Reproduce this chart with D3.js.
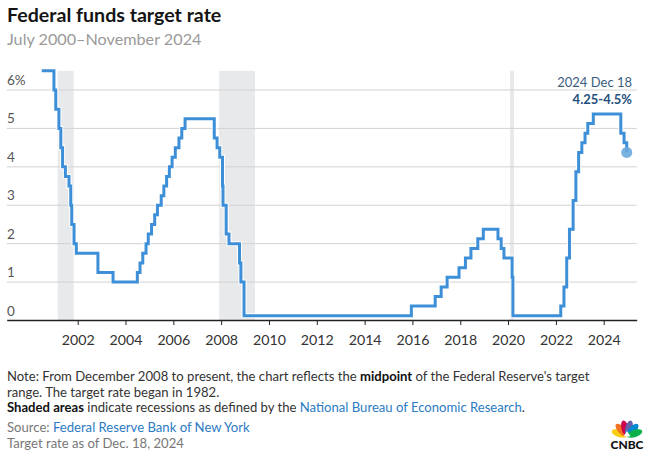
<!DOCTYPE html>
<html>
<head>
<meta charset="utf-8">
<script src="https://cdn.jsdelivr.net/npm/d3@7"></script>
<style>
  html, body { margin: 0; padding: 0; background: #fff; }
  svg { display: block; }
  text { font-family: Lato, "Open Sans", sans-serif; }
</style>
</head>
<body>
<svg id="chart" width="647" height="464"></svg>
<script>
// ---- data ----
const changeDates = ["2000-07-01","2001-01-03","2001-01-31","2001-03-20","2001-04-18","2001-05-15","2001-06-27","2001-08-21","2001-09-17","2001-10-02","2001-11-06","2001-12-11","2002-11-06","2003-06-25","2004-06-30","2004-08-10","2004-09-21","2004-11-10","2004-12-14","2005-02-02","2005-03-22","2005-05-03","2005-06-30","2005-08-09","2005-09-20","2005-11-01","2005-12-13","2006-01-31","2006-03-28","2006-05-10","2006-06-29","2007-09-18","2007-10-31","2007-12-11","2008-01-22","2008-01-30","2008-03-18","2008-04-30","2008-10-08","2008-10-29","2008-12-16","2015-12-16","2016-12-14","2017-03-15","2017-06-14","2017-12-13","2018-03-21","2018-06-13","2018-09-26","2018-12-19","2019-07-31","2019-09-18","2019-10-30","2020-03-03","2020-03-15","2022-03-16","2022-05-04","2022-06-15","2022-07-27","2022-09-21","2022-11-02","2022-12-14","2023-02-01","2023-03-22","2023-05-03","2023-07-26","2024-09-18","2024-11-07","2024-12-18"];
const rates = [6.5,6.0,5.5,5.0,4.5,4.0,3.75,3.5,3.0,2.5,2.0,1.75,1.25,1.0,1.25,1.5,1.75,2.0,2.25,2.5,2.75,3.0,3.25,3.5,3.75,4.0,4.25,4.5,4.75,5.0,5.25,4.75,4.5,4.25,3.5,3.0,2.25,2.0,1.5,1.0,0.125,0.375,0.625,0.875,1.125,1.375,1.625,1.875,2.125,2.375,2.125,1.875,1.625,1.125,0.125,0.375,0.875,1.625,2.375,3.125,3.875,4.375,4.625,4.875,5.125,5.375,4.875,4.625,4.375];
const recessionStarts = ["2001-03-01","2007-12-01","2020-02-01"];
const recessionEnds   = ["2001-11-01","2009-06-01","2020-04-01"];
const yTicks = [0,1,2,3,4,5,6];
const xTickYears = [2002,2004,2006,2008,2010,2012,2014,2016,2018,2020,2022,2024];
const lastLabelDate = "2024 Dec 18";
const lastLabelRange = "4.25-4.5%";

// ---- setup ----
const svg = d3.select("#chart");
const parse = d3.utcParse("%Y-%m-%d");
const data = changeDates.map((d, i) => ({date: parse(d), value: rates[i]}));

const left = 6.7, right = 636.7, baseY = 320.5;
const x = d3.scaleUtc()
  .domain([Date.UTC(2002,0,1), Date.UTC(2024,0,1)])
  .range([77.7, 603.7]);
x.domain([x.invert(left), x.invert(right)]).range([left, right]);

const y = d3.scaleLinear().domain([0, 6]).range([baseY, 90]);
const blue = "#3d8fd8";

// title
svg.append("text").attr("x", 7).attr("y", 22)
  .attr("font-size", 19.6).attr("font-weight", 700).attr("fill", "#141414")
  .text("Federal funds target rate");
svg.append("text").attr("x", 7).attr("y", 44.5)
  .attr("font-size", 16.2).attr("fill", "#9a9a9a")
  .text("July 2000\u2013November 2024");

// recessions
svg.append("g").selectAll("rect").data(recessionStarts).join("rect")
  .attr("x", (d) => x(parse(d)))
  .attr("width", (d, i) => x(parse(recessionEnds[i])) - x(parse(d)))
  .attr("y", y(6.5))
  .attr("height", baseY - y(6.5))
  .attr("fill", "#e8e9eb");

// gridlines
svg.append("g").selectAll("line").data(yTicks.filter(d => d > 0)).join("line")
  .attr("x1", left).attr("x2", right)
  .attr("y1", d => y(d)).attr("y2", d => y(d))
  .attr("stroke", "#d2d2d2").attr("stroke-width", 1);

// y labels
svg.append("g").selectAll("text").data(yTicks).join("text")
  .attr("x", 7).attr("y", d => y(d) - 5)
  .attr("font-size", 13.5).attr("fill", "#555")
  .text(d => d === 6 ? "6%" : d);

// x axis
const xAxis = d3.axisBottom(x)
  .tickValues(xTickYears.map(yr => new Date(Date.UTC(yr, 0, 1))))
  .tickFormat(d3.utcFormat("%Y"))
  .tickSize(5).tickSizeOuter(0).tickPadding(9.5);
const gx = svg.append("g").attr("transform", `translate(0,${320})`).call(xAxis);
gx.select(".domain").attr("stroke", "#222").attr("stroke-width", 1.5);
gx.selectAll(".tick line").attr("stroke", "#222");
gx.selectAll(".tick text").attr("font-family", "Lato, sans-serif")
  .attr("font-size", 14.2).attr("fill", "#333");

// line
const line = d3.line().x(d => x(d.date)).y(d => y(d.value)).curve(d3.curveStepAfter);
svg.append("path").datum(data).attr("d", line)
  .attr("fill", "none").attr("stroke", "#fff").attr("stroke-width", 5)
  .attr("stroke-linejoin", "miter");
svg.append("path").datum(data).attr("d", line)
  .attr("fill", "none").attr("stroke", blue).attr("stroke-width", 3)
  .attr("stroke-linejoin", "miter");

// last point
const last = data[data.length - 1];
svg.append("circle").attr("cx", x(last.date)).attr("cy", y(last.value))
  .attr("r", 5.5).attr("fill", "#6aa8de").attr("opacity", 0.9);

svg.append("text").attr("x", 632).attr("y", 87).attr("text-anchor", "end")
  .attr("font-size", 13).attr("fill", "#3b5d7f").text(lastLabelDate);
svg.append("text").attr("x", 632).attr("y", 103.5).attr("text-anchor", "end")
  .attr("font-size", 13).attr("font-weight", 700).attr("fill", "#1f4f7d").text(lastLabelRange);

// notes
const noteSize = 13.1;
const n1 = svg.append("text").attr("x", 7).attr("y", 381).attr("font-size", noteSize).attr("fill", "#333");
n1.append("tspan").text("Note: From December 2008 to present, the chart reflects the ");
n1.append("tspan").attr("font-weight", 700).attr("fill", "#111").text("midpoint");
n1.append("tspan").text(" of the Federal Reserve's target");
svg.append("text").attr("x", 7).attr("y", 396.5).attr("font-size", noteSize).attr("fill", "#333")
  .text("range. The target rate began in 1982.");
const n3 = svg.append("text").attr("x", 7).attr("y", 412).attr("font-size", noteSize).attr("fill", "#333");
n3.append("tspan").attr("font-weight", 700).attr("fill", "#111").text("Shaded areas");
n3.append("tspan").text(" indicate recessions as defined by the ");
n3.append("tspan").attr("fill", "#2b7bc4").text("National Bureau of Economic Research");
n3.append("tspan").text(".");
const n4 = svg.append("text").attr("x", 7).attr("y", 432).attr("font-size", noteSize).attr("fill", "#777");
n4.append("tspan").text("Source: ");
n4.append("tspan").attr("fill", "#2b7bc4").text("Federal Reserve Bank of New York");
svg.append("text").attr("x", 7).attr("y", 447.5).attr("font-size", noteSize).attr("fill", "#777")
  .text("Target rate as of Dec. 18, 2024");

// CNBC logo
const logo = svg.append("g").attr("transform", "translate(627,436)");
const featherColors = ["#fccc12", "#f37021", "#cc004c", "#6460aa", "#0089d0", "#0db14b"];
const angles = [-72, -43, -14, 14, 43, 72];
logo.selectAll("ellipse").data(featherColors).join("ellipse")
  .attr("cx", 0).attr("cy", -8).attr("rx", 3.6).attr("ry", 8)
  .attr("transform", (d, i) => `rotate(${angles[i]})`)
  .attr("fill", d => d);
logo.append("path").attr("d", "M-3.5,0.5 L0,-5 L3.5,0.5 Z").attr("fill", "#fff");
svg.append("text").attr("x", 627).attr("y", 448.5).attr("text-anchor", "middle")
  .attr("font-size", 12).attr("font-weight", 900).attr("fill", "#111")
  .attr("font-family", "Lato, sans-serif").text("CNBC");
</script>
</body>
</html>
